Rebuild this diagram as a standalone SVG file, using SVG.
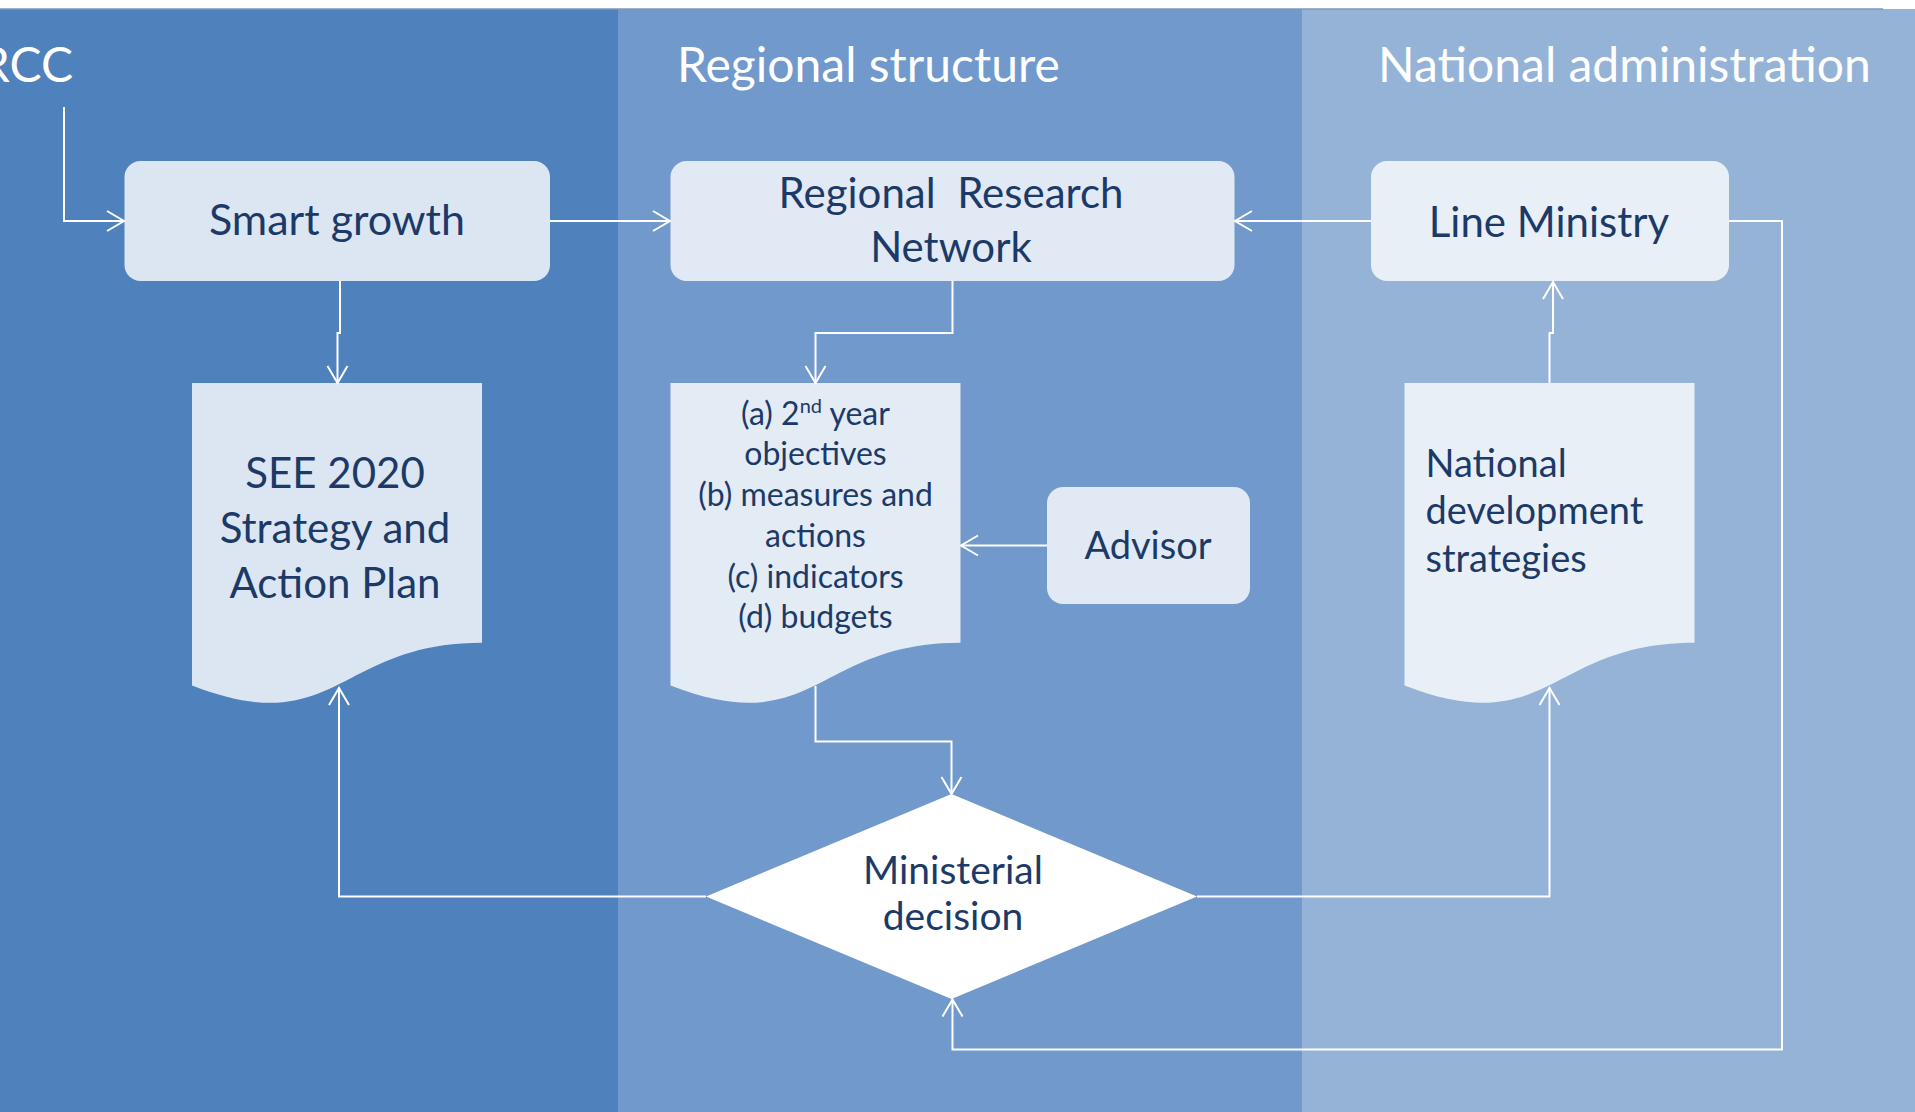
<svg xmlns="http://www.w3.org/2000/svg" width="1915" height="1112" viewBox="0 0 1915 1112">
<defs>
<style>
.hd{font-family:Lato,"Liberation Sans",sans-serif;fill:#fff;font-size:48px}
.nt{font-family:Lato,"Liberation Sans",sans-serif;fill:#1C3A68;text-anchor:middle}
.lt{text-anchor:start}
.cn{fill:none;stroke:#fff;stroke-width:2;marker-end:url(#ah)}
</style>
<marker id="ah" markerUnits="userSpaceOnUse" markerWidth="24" markerHeight="24" viewBox="-20 -12 24 24" refX="0" refY="0" orient="auto">
<path d="M-17,-10 L0,0 L-17,10" fill="none" stroke="#fff" stroke-width="2"/>
</marker>
</defs>
<rect x="0" y="0" width="1915" height="1112" fill="#fff"/>
<g id="lanes">
<rect x="0" y="9" width="618" height="1103" fill="#4F81BD"/>
<rect x="618" y="9" width="684" height="1103" fill="#7199CB"/>
<rect x="1302" y="9" width="613" height="1103" fill="#95B3D7"/>
<line x1="0" y1="9" x2="1883" y2="9" stroke="#7F97B8" stroke-width="1.5"/>
<text class="hd" x="73" y="82" text-anchor="end">RCC</text>
<text class="hd" x="677" y="82">Regional structure</text>
<text class="hd" x="1378" y="82">National administration</text>
</g>
<g id="node-smart-growth">
<rect x="124.5" y="161" width="425.5" height="120" rx="16" fill="#DCE6F2"/>
<text class="nt" x="337" y="235" font-size="43">Smart growth</text>
</g>
<g id="node-rrn">
<rect x="670.5" y="161" width="564" height="120" rx="16" fill="#E1E9F4"/>
<text class="nt" x="951" y="208" font-size="42" xml:space="preserve">Regional  Research</text>
<text class="nt" x="951" y="262" font-size="42">Network</text>
</g>
<g id="node-line-ministry">
<rect x="1371" y="161" width="358" height="120" rx="16" fill="#E8EFF7"/>
<text class="nt" x="1549" y="237" font-size="42">Line Ministry</text>
</g>
<g id="node-see2020">
<path d="M192,383 H482 V642.8 C337,642.8 337,741.8 192,685.6 Z" fill="#DCE6F2"/>
<text class="nt" x="335" y="488" font-size="42">SEE 2020</text>
<text class="nt" x="335" y="543" font-size="42">Strategy and</text>
<text class="nt" x="335" y="598" font-size="42">Action Plan</text>
</g>
<g id="node-objectives">
<path d="M670.5,383 H960.5 V642.8 C815.5,642.8 815.5,741.8 670.5,685.6 Z" fill="#E3EBF5"/>
<text class="nt" x="815.5" y="425" font-size="32">(a) 2<tspan font-size="20" dy="-12">nd</tspan><tspan dy="12"> year</tspan></text>
<text class="nt" x="815.5" y="465" font-size="32">objectives</text>
<text class="nt" x="815.5" y="506" font-size="32">(b) measures and</text>
<text class="nt" x="815.5" y="547" font-size="32">actions</text>
<text class="nt" x="815.5" y="588" font-size="32">(c) indicators</text>
<text class="nt" x="815.5" y="628" font-size="32">(d) budgets</text>
</g>
<g id="node-advisor">
<rect x="1047" y="487" width="203" height="117" rx="16" fill="#E1E9F4"/>
<text class="nt" x="1148" y="559" font-size="38">Advisor</text>
</g>
<g id="node-nds">
<path d="M1404.5,383 H1694.5 V642.8 C1549.5,642.8 1549.5,741.8 1404.5,685.6 Z" fill="#E9EFF7"/>
<text class="nt lt" x="1425.5" y="477" font-size="38">National</text>
<text class="nt lt" x="1425.5" y="524" font-size="38">development</text>
<text class="nt lt" x="1425.5" y="572" font-size="38">strategies</text>
</g>
<g id="node-ministerial-decision">
<polygon points="951.5,794 1197,896.5 951.5,999 706,896.5" fill="#fff"/>
<text class="nt" x="953" y="884" font-size="39">Ministerial</text>
<text class="nt" x="953" y="930" font-size="39">decision</text>
</g>
<g id="connectors">
<path class="cn" d="M64,107 V221 H124"/>
<path class="cn" d="M340,281 V333 H337.5 V383"/>
<path class="cn" d="M550,221 H670"/>
<path class="cn" d="M1371,221 H1235"/>
<path class="cn" d="M952.5,281 V333 H815.5 V383"/>
<path class="cn" d="M1047,545.5 H961"/>
<path class="cn" d="M815.5,686 V741.5 H951.5 V794"/>
<path class="cn" d="M706,896.5 H339 V688"/>
<path class="cn" d="M1197,896.5 H1549.5 V688"/>
<path class="cn" d="M1549.5,383 V333 H1553 V282"/>
<path class="cn" d="M1729,221 H1782 V1049.5 H952.5 V999.5"/>
</g>
</svg>
